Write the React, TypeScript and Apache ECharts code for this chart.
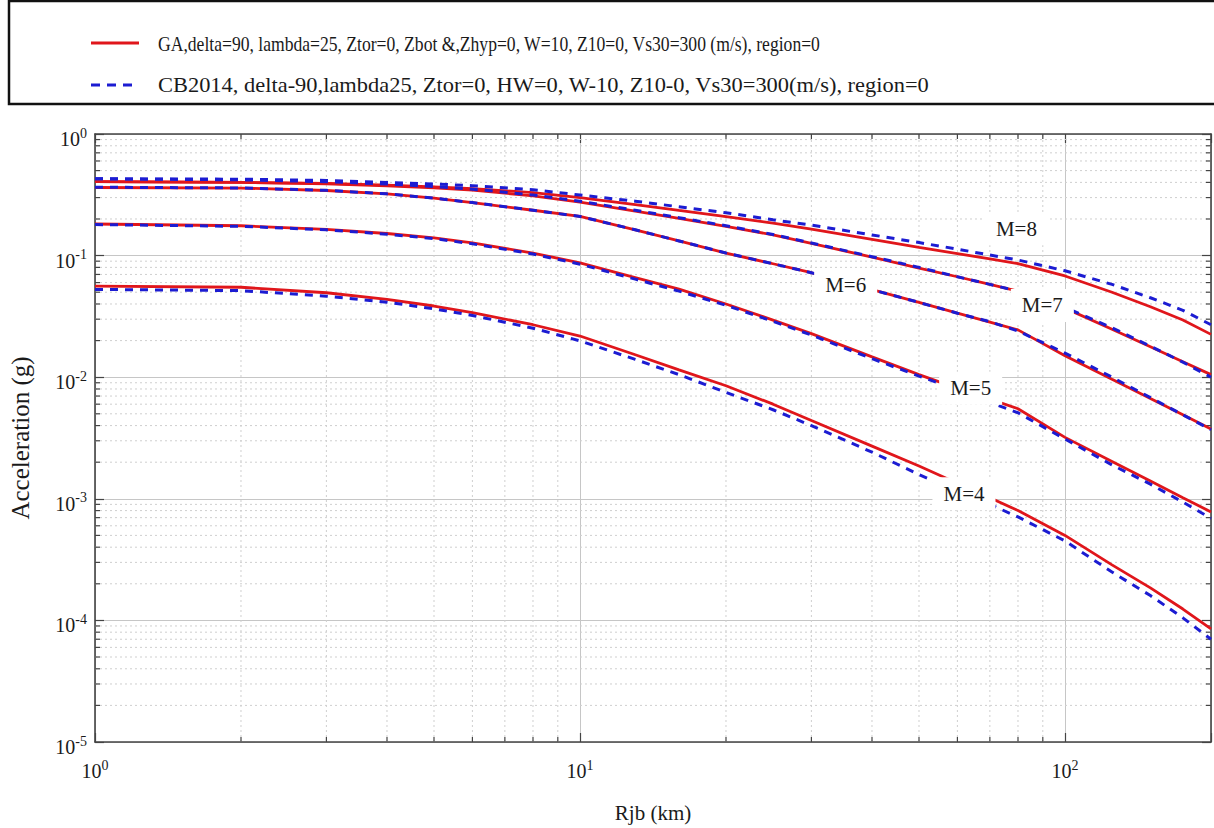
import React, { useEffect, useRef } from 'react';
import * as echarts from 'echarts';

// ---------- data ----------
const distances = [1, 2, 3, 4, 5, 6, 8, 10, 13, 16, 20, 25, 30, 40, 50, 60, 70, 80, 100, 125, 150, 175, 200];

const gaM8 = [0.406, 0.4, 0.392, 0.38, 0.368, 0.356, 0.33, 0.3, 0.263, 0.235, 0.209, 0.185, 0.165, 0.136, 0.117, 0.104, 0.094, 0.086, 0.068, 0.05, 0.038, 0.0295, 0.0225];
const cbM8 = [0.428, 0.425, 0.415, 0.4, 0.388, 0.376, 0.348, 0.315, 0.28, 0.252, 0.225, 0.197, 0.178, 0.148, 0.128, 0.113, 0.101, 0.092, 0.075, 0.058, 0.045, 0.0355, 0.027];
const gaM7 = [0.406, 0.4, 0.39, 0.375, 0.36, 0.345, 0.31, 0.275, 0.232, 0.202, 0.174, 0.148, 0.126, 0.097, 0.079, 0.067, 0.058, 0.051, 0.037, 0.0248, 0.0178, 0.0134, 0.0105];
const cbM7 = [0.428, 0.42, 0.405, 0.388, 0.37, 0.352, 0.315, 0.28, 0.236, 0.205, 0.176, 0.149, 0.127, 0.098, 0.08, 0.067, 0.058, 0.051, 0.0375, 0.0255, 0.018, 0.0133, 0.01];
const gaM6 = [0.363, 0.359, 0.343, 0.322, 0.297, 0.273, 0.236, 0.21, 0.163, 0.132, 0.105, 0.0857, 0.0723, 0.0525, 0.0412, 0.0336, 0.0284, 0.0245, 0.015, 0.0096, 0.00667, 0.0049, 0.00375];
const cbM6 = [0.365, 0.36, 0.344, 0.322, 0.297, 0.273, 0.236, 0.21, 0.163, 0.132, 0.105, 0.0857, 0.0723, 0.0525, 0.0412, 0.0336, 0.0286, 0.024, 0.0158, 0.01, 0.0068, 0.0049, 0.0037];
const gaM5 = [0.182, 0.176, 0.164, 0.152, 0.14, 0.127, 0.105, 0.087, 0.066, 0.053, 0.04, 0.0295, 0.0228, 0.0147, 0.0105, 0.0081, 0.0066, 0.0055, 0.0032, 0.00203, 0.0014, 0.00102, 0.00078];
const cbM5 = [0.18, 0.174, 0.163, 0.15, 0.138, 0.125, 0.103, 0.085, 0.064, 0.051, 0.039, 0.0288, 0.0222, 0.0142, 0.0102, 0.0079, 0.0062, 0.0051, 0.0031, 0.0019, 0.00132, 0.00094, 0.00069];
const gaM4 = [0.056, 0.0549, 0.0495, 0.0436, 0.0385, 0.034, 0.027, 0.0218, 0.0153, 0.0115, 0.0085, 0.006, 0.0044, 0.00271, 0.00186, 0.00134, 0.00102, 0.0008, 0.0005, 0.000286, 0.000185, 0.000124, 0.000085];
const cbM4 = [0.0527, 0.0515, 0.0464, 0.0414, 0.0365, 0.0322, 0.0253, 0.0199, 0.014, 0.0105, 0.0075, 0.0054, 0.004, 0.00242, 0.00158, 0.00115, 0.0009, 0.00071, 0.00045, 0.00025, 0.00016, 0.000105, 0.00007];

const gaSeries = [gaM4, gaM5, gaM6, gaM7, gaM8];
const cbSeries = [cbM4, cbM5, cbM6, cbM7, cbM8];

const magnitudeLabels = ['M=4', 'M=5', 'M=6', 'M=7', 'M=8'];
const labelX = [61.9, 63.9, 35.3, 89.8, 79.4];
const labelY = [0.0011, 0.00813, 0.0578, 0.0389, 0.166];

const xMajorTicks = [1, 10, 100];
const yMajorTicks = [1e-5, 1e-4, 1e-3, 1e-2, 1e-1, 1];
const X_MIN = 1;
const X_MAX = 200;
const Y_MIN = 1e-5;
const Y_MAX = 1;

const legendGA = 'GA,delta=90, lambda=25, Ztor=0, Zbot &,Zhyp=0, W=10, Z10=0, Vs30=300 (m/s), region=0';
const legendCB = 'CB2014, delta-90,lambda25, Ztor=0, HW=0, W-10, Z10-0, Vs30=300(m/s), region=0';
const xTitle = 'Rjb (km)';
const yTitle = 'Acceleration (g)';

// minor tick values (2..9 in each decade)
const xMinor: number[] = [];
xMajorTicks.forEach((d) => {
  for (let k = 2; k <= 9; k++) if (d * k < X_MAX) xMinor.push(d * k);
});
const yMinor: number[] = [];
yMajorTicks.slice(0, -1).forEach((d) => {
  for (let k = 2; k <= 9; k++) yMinor.push(+(d * k).toPrecision(3));
});

// ---------- style ----------
const SERIF = 'Liberation Serif';
const RED = '#e0161b';
const BLUE = '#1c1cd2';
const AXIS = '#444';
const TXT = '#1a1a1a';

const powLabel = (v: number) => {
  const l = Math.log10(v);
  const e = Math.round(l);
  if (Math.abs(l - e) > 1e-6) return '';
  return `{b|10}{s|${e}}`;
};
const rich = {
  b: { fontSize: 20, fontFamily: SERIF, color: TXT, lineHeight: 26, verticalAlign: 'middle' },
  s: { fontSize: 14, fontFamily: SERIF, color: TXT, lineHeight: 18, verticalAlign: 'top' },
};

export default function App() {
  const ref = useRef<HTMLDivElement>(null);

  useEffect(() => {
    if (!ref.current) return;
    const chart = echarts.init(ref.current, undefined, { renderer: 'svg' });

    const pair = (vals: number[]) => distances.map((d, i) => [d, vals[i]]);

    const lineSeries: any[] = [];
    gaSeries.forEach((vals, i) =>
      lineSeries.push({
        name: 'GA ' + magnitudeLabels[i],
        type: 'line',
        data: pair(vals),
        symbol: 'none',
        z: 3,
        lineStyle: { color: RED, width: 2.8 },
      })
    );
    cbSeries.forEach((vals, i) =>
      lineSeries.push({
        name: 'CB2014 ' + magnitudeLabels[i],
        type: 'line',
        data: pair(vals),
        symbol: 'none',
        z: 3,
        lineStyle: { color: BLUE, width: 3, type: [8, 7] },
      })
    );

    const minorStyle = { stroke: '#cfcfcf', lineWidth: 1, lineDash: [2, 3] };
    const tickStyle = { stroke: AXIS, lineWidth: 1.2 };

    const option: any = {
      animation: false,
      backgroundColor: '#fff',
      textStyle: { fontFamily: SERIF },
      grid: { left: 88, right: 1, top: 134, bottom: 84, containLabel: false },
      xAxis: [
        {
          type: 'log',
          logBase: 10,
          min: X_MIN,
          max: X_MAX,
          position: 'bottom',
          name: xTitle,
          nameLocation: 'middle',
          nameGap: 60,
          nameTextStyle: { fontFamily: SERIF, fontSize: 21, color: TXT },
          axisLine: { show: true, lineStyle: { color: AXIS, width: 1.6 } },
          axisTick: { show: true, inside: true, length: 9, lineStyle: { color: AXIS, width: 1.2 } },
          axisLabel: { formatter: powLabel, rich, margin: 16 },
          splitLine: { show: true, lineStyle: { color: '#c6c6c6', width: 1 } },
        },
        {
          type: 'log',
          logBase: 10,
          min: X_MIN,
          max: X_MAX,
          position: 'top',
          axisLine: { show: true, lineStyle: { color: AXIS, width: 1.6 } },
          axisTick: { show: true, inside: true, length: 9, lineStyle: { color: AXIS, width: 1.2 } },
          axisLabel: { show: false },
          splitLine: { show: false },
        },
      ],
      yAxis: [
        {
          type: 'log',
          logBase: 10,
          min: Y_MIN,
          max: Y_MAX,
          position: 'left',
          name: yTitle,
          nameLocation: 'middle',
          nameGap: 62,
          nameRotate: 90,
          nameTextStyle: { fontFamily: SERIF, fontSize: 25, color: TXT },
          axisLine: { show: true, lineStyle: { color: AXIS, width: 1.6 } },
          axisTick: { show: true, inside: true, length: 9, lineStyle: { color: AXIS, width: 1.2 } },
          axisLabel: { formatter: powLabel, rich, margin: 8, padding: [10, 0, 0, 0] },
          splitLine: { show: true, lineStyle: { color: '#c6c6c6', width: 1 } },
        },
        {
          type: 'log',
          logBase: 10,
          min: Y_MIN,
          max: Y_MAX,
          position: 'right',
          axisLine: { show: true, lineStyle: { color: AXIS, width: 1.6 } },
          axisTick: { show: true, inside: true, length: 9, lineStyle: { color: AXIS, width: 1.2 } },
          axisLabel: { show: false },
          splitLine: { show: false },
        },
      ],
      graphic: [
        {
          type: 'rect',
          shape: { x: 9, y: 1, width: 1230, height: 103 },
          style: { fill: '#fff', stroke: '#111', lineWidth: 2.5 },
          z: 0,
        },
        {
          type: 'line',
          shape: { x1: 91, y1: 43, x2: 139, y2: 43 },
          style: { stroke: RED, lineWidth: 3 },
        },
        {
          type: 'text',
          x: 158,
          y: 43,
          scaleX: 0.8,
          style: { text: legendGA, fontFamily: SERIF, fontSize: 22, fill: TXT, verticalAlign: 'middle' },
        },
        {
          type: 'line',
          shape: { x1: 91, y1: 85, x2: 139, y2: 85 },
          style: { stroke: BLUE, lineWidth: 3, lineDash: [9, 7] },
        },
        {
          type: 'text',
          x: 158,
          y: 85,
          scaleX: 1.02,
          style: { text: legendCB, fontFamily: SERIF, fontSize: 22, fill: TXT, verticalAlign: 'middle' },
        },
      ],
      series: [
        {
          type: 'custom',
          name: 'x minor grid',
          silent: true,
          z: 1,
          data: xMinor.map((v) => [v, Y_MIN]),
          encode: { x: 0, y: 1 },
          renderItem: (_p: any, api: any) => {
            const v = api.value(0);
            const b = api.coord([v, Y_MIN]);
            const t = api.coord([v, Y_MAX]);
            return {
              type: 'group',
              children: [
                { type: 'line', shape: { x1: b[0], y1: b[1], x2: t[0], y2: t[1] }, style: minorStyle },
                { type: 'line', shape: { x1: b[0], y1: b[1], x2: b[0], y2: b[1] - 5 }, style: tickStyle },
                { type: 'line', shape: { x1: t[0], y1: t[1], x2: t[0], y2: t[1] + 5 }, style: tickStyle },
              ],
            };
          },
        },
        {
          type: 'custom',
          name: 'y minor grid',
          silent: true,
          z: 1,
          data: yMinor.map((v) => [X_MIN, v]),
          encode: { x: 0, y: 1 },
          renderItem: (_p: any, api: any) => {
            const v = api.value(1);
            const l = api.coord([X_MIN, v]);
            const r = api.coord([X_MAX, v]);
            return {
              type: 'group',
              children: [
                { type: 'line', shape: { x1: l[0], y1: l[1], x2: r[0], y2: r[1] }, style: minorStyle },
                { type: 'line', shape: { x1: l[0], y1: l[1], x2: l[0] + 5, y2: l[1] }, style: tickStyle },
                { type: 'line', shape: { x1: r[0], y1: r[1], x2: r[0] - 5, y2: r[1] }, style: tickStyle },
              ],
            };
          },
        },
        ...lineSeries,
        {
          type: 'scatter',
          name: 'labels',
          silent: true,
          z: 10,
          symbolSize: 1,
          itemStyle: { color: 'rgba(0,0,0,0)', opacity: 1 },
          emphasis: { disabled: true },
          data: magnitudeLabels.map((t, i) => [labelX[i], labelY[i], t]),
          label: {
            show: true,
            position: 'inside',
            formatter: (p: any) => p.data[2],
            backgroundColor: '#ffffff',
            opacity: 1,
            padding: [6, 11],
            fontFamily: SERIF,
            fontSize: 21,
            color: TXT,
          },
        },
      ],
    };

    chart.setOption(option);
    return () => chart.dispose();
  }, []);

  return (
    <div
      ref={ref}
      style={{ position: 'fixed', left: 0, top: 0, width: 1214, height: 828, background: '#fff' }}
    />
  );
}
